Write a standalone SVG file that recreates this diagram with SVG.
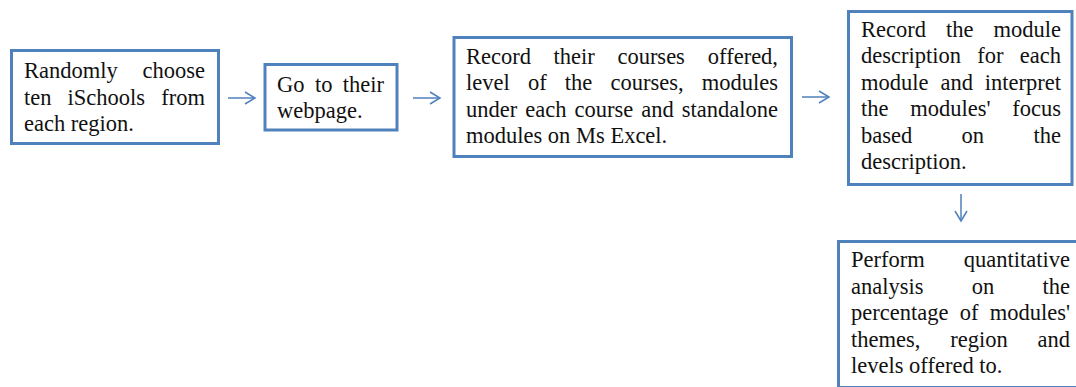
<svg xmlns="http://www.w3.org/2000/svg" width="1076" height="387" viewBox="0 0 1076 387">
<defs>
<style>
.box{fill:#fff;stroke:#4F81BD;stroke-width:3}
.t{font-family:'Liberation Serif',serif;font-size:22.5px;fill:#111}
.e{text-anchor:end}
.c{fill:none;stroke:#4F81BD;stroke-width:1.5}
</style>
<marker id="ah" markerUnits="userSpaceOnUse" markerWidth="14" markerHeight="16" refX="11" refY="7" orient="auto">
<path d="M1,1 L11,7 L1,13" fill="none" stroke="#4F81BD" stroke-width="1.5"/>
</marker>
</defs>
<rect width="1076" height="387" fill="#fff"/>
<g id="connectors">
<path class="c" d="M228,98 H255" marker-end="url(#ah)"/>
<path class="c" d="M413,98 H440" marker-end="url(#ah)"/>
<path class="c" d="M802,97 H829" marker-end="url(#ah)"/>
<path class="c" d="M961,194 V221" marker-end="url(#ah)"/>
</g>
<g font-family="Liberation Serif, serif">
<g id="node1">
<rect class="box" x="11.5" y="50.5" width="207" height="93"/>
<text class="t" x="24" y="78">Randomly</text><text class="t e" x="205" y="78">choose</text>
<text class="t" x="24" y="104.5">ten</text><text class="t" x="67.6" y="104.5">iSchools</text><text class="t e" x="205" y="104.5">from</text>
<text class="t" x="24" y="131">each region.</text>
</g>
<g id="node2">
<rect class="box" x="265" y="64.5" width="132" height="65.5"/>
<text class="t" x="277" y="92">Go</text><text class="t" x="314.9" y="92">to</text><text class="t e" x="384" y="92">their</text>
<text class="t" x="277" y="118">webpage.</text>
</g>
<g id="node3">
<rect class="box" x="454" y="37.5" width="337.5" height="119"/>
<text class="t" x="466" y="63.5">Record</text><text class="t" x="553.6" y="63.5">their</text><text class="t" x="617.4" y="63.5">courses</text><text class="t e" x="778" y="63.5">offered,</text>
<text class="t" x="466" y="90">level</text><text class="t" x="527.9" y="90">of</text><text class="t" x="564.8" y="90">the</text><text class="t" x="610.5" y="90">courses,</text><text class="t e" x="778" y="90">modules</text>
<text class="t" x="466" y="116.5">under</text><text class="t" x="525.3" y="116.5">each</text><text class="t" x="574.5" y="116.5">course</text><text class="t" x="641.3" y="116.5">and</text><text class="t e" x="778" y="116.5">standalone</text>
<text class="t" x="466" y="143">modules on Ms Excel.</text>
</g>
<g id="node4">
<rect class="box" x="848.5" y="11.5" width="223.5" height="173"/>
<text class="t" x="861" y="36.5">Record</text><text class="t" x="946" y="36.5">the</text><text class="t e" x="1061" y="36.5">module</text>
<text class="t" x="861" y="63">description</text><text class="t" x="977.3" y="63">for</text><text class="t e" x="1061" y="63">each</text>
<text class="t" x="861" y="89.5">module</text><text class="t" x="940.4" y="89.5">and</text><text class="t e" x="1061" y="89.5">interpret</text>
<text class="t" x="861" y="116">the</text><text class="t" x="910.3" y="116">modules'</text><text class="t e" x="1061" y="116">focus</text>
<text class="t" x="861" y="142.5">based</text><text class="t" x="961.6" y="142.5">on</text><text class="t e" x="1061" y="142.5">the</text>
<text class="t" x="861" y="169">description.</text>
</g>
<g id="node5">
<rect class="box" x="838.5" y="241.5" width="250" height="146"/>
<text class="t" x="851" y="267">Perform</text><text class="t e" x="1070" y="267">quantitative</text>
<text class="t" x="851" y="293.5">analysis</text><text class="t" x="971.8" y="293.5">on</text><text class="t e" x="1070" y="293.5">the</text>
<text class="t" x="851" y="320">percentage</text><text class="t" x="959.7" y="320">of</text><text class="t e" x="1070" y="320">modules'</text>
<text class="t" x="851" y="346.5">themes,</text><text class="t" x="950.2" y="346.5">region</text><text class="t e" x="1070" y="346.5">and</text>
<text class="t" x="851" y="373">levels offered to.</text>
</g>
</g>
</svg>
